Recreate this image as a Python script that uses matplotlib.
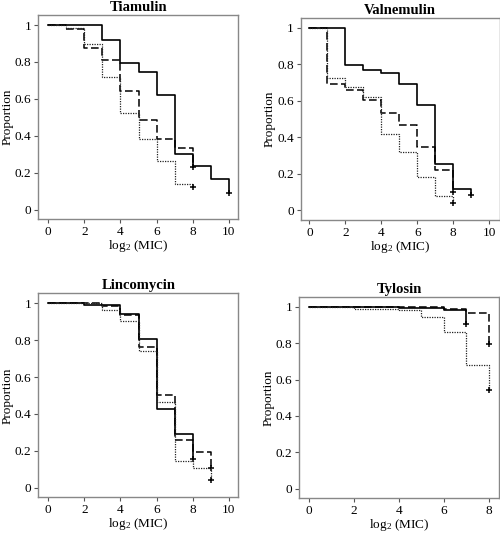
# MIC survival-type step curves for four antibiotics
import numpy as np
import matplotlib.pyplot as plt

plt.rcParams['font.family'] = ['Liberation Serif', 'DejaVu Serif']
plt.rcParams['mathtext.fontset'] = 'custom'
plt.rcParams['mathtext.rm'] = 'Liberation Serif'
plt.rcParams['mathtext.it'] = 'Liberation Serif:italic'

# step values per interval [0,1), [1,2), ... and the last (censored) value
tia_solid = [1, 1, 1, 0.92, 0.793, 0.746, 0.621, 0.299, 0.234, 0.163]
tia_solid_end = 0.092
tia_dash = [1, 0.98, 0.878, 0.81, 0.641, 0.485, 0.384, 0.335]
tia_dash_end = 0.23
tia_dot = [1, 0.985, 0.90, 0.72, 0.522, 0.384, 0.262, 0.141]
tia_dot_end = 0.123

val_solid = [1, 1, 0.797, 0.771, 0.750, 0.69, 0.577, 0.255, 0.115]
val_solid_end = 0.082
val_dash = [1, 0.69, 0.657, 0.606, 0.535, 0.467, 0.347, 0.223]
val_dash_end = 0.10
val_dot = [1, 0.723, 0.676, 0.621, 0.419, 0.32, 0.18, 0.08]
val_dot_end = 0.04

lin_solid = [1, 1, 0.989, 0.989, 0.944, 0.807, 0.427, 0.289]
lin_solid_end = 0.153
lin_dash = [1, 1, 1, 0.984, 0.936, 0.764, 0.504, 0.26, 0.193]
lin_dash_end = 0.105
lin_dot = [1, 1, 1, 0.964, 0.902, 0.742, 0.465, 0.142, 0.105]
lin_dot_end = 0.042

tyl_solid = [1, 1, 1, 1, 0.993, 0.993, 0.982]
tyl_solid_end = 0.907
tyl_dash = [1, 1, 1, 1, 1, 1, 0.985, 0.965]
tyl_dash_end = 0.793
tyl_dot = [1, 1, 0.985, 0.985, 0.98, 0.942, 0.86, 0.681]
tyl_dot_end = 0.542

titles = ['Tiamulin', 'Valnemulin', 'Lincomycin', 'Tylosin']
yticks = [0, 0.2, 0.4, 0.6, 0.8, 1]

panels = [
    (tia_solid, tia_solid_end, tia_dash, tia_dash_end, tia_dot, tia_dot_end),
    (val_solid, val_solid_end, val_dash, val_dash_end, val_dot, val_dot_end),
    (lin_solid, lin_solid_end, lin_dash, lin_dash_end, lin_dot, lin_dot_end),
    (tyl_solid, tyl_solid_end, tyl_dash, tyl_dash_end, tyl_dot, tyl_dot_end),
]
xticks_list = [range(0, 11, 2), range(0, 11, 2), range(0, 11, 2), range(0, 9, 2)]
xlims = [(-0.554, 10.53), (-0.48, 10.57), (-0.554, 10.53), (-0.446, 8.47)]
positions = [
    [0.0766, 0.5886, 0.400, 0.3833],
    [0.6014, 0.5872, 0.3976, 0.3796],
    [0.0766, 0.0670, 0.400, 0.3827],
    [0.5986, 0.0651, 0.400, 0.3782],
]

styles = ['-', (0, (5, 2.2)), (0, (1, 1))]
widths = [1.2, 1.1, 0.9]
colors = ['black', 'black', '#222222']

fig = plt.figure(figsize=(5, 5.33), dpi=100)

for i in range(4):
    ax = fig.add_axes(positions[i])
    d = panels[i]
    for k in range(3):
        vals = d[2 * k]
        end = d[2 * k + 1]
        x = np.arange(len(vals) + 1)
        y = list(vals) + [end]
        ax.step(x, y, where='post', color=colors[k], linestyle=styles[k],
                linewidth=widths[k])
        ax.plot(x[-1], end, marker='+', color='black', markersize=4,
                markeredgewidth=1.1)
    ax.set_xlim(*xlims[i])
    ax.set_ylim(-0.053, 1.055)
    ax.set_xticks(list(xticks_list[i]))
    ax.set_yticks(yticks)
    ax.set_yticklabels([f'{v:g}' for v in yticks])
    ax.tick_params(direction='out', length=3, width=0.8, labelsize=9.5,
                   color='#555555', pad=2)
    for s in ax.spines.values():
        s.set_color('#888888')
        s.set_linewidth(1.0)
    ax.set_title(titles[i], fontsize=10.5, fontweight='bold', pad=3)
    ax.set_xlabel(r'log$_\mathregular{2}$ (MIC)', fontsize=9.5, labelpad=0)
    ax.set_ylabel('Proportion', fontsize=9.5, labelpad=1)

fig.savefig('out.png', dpi=100)
